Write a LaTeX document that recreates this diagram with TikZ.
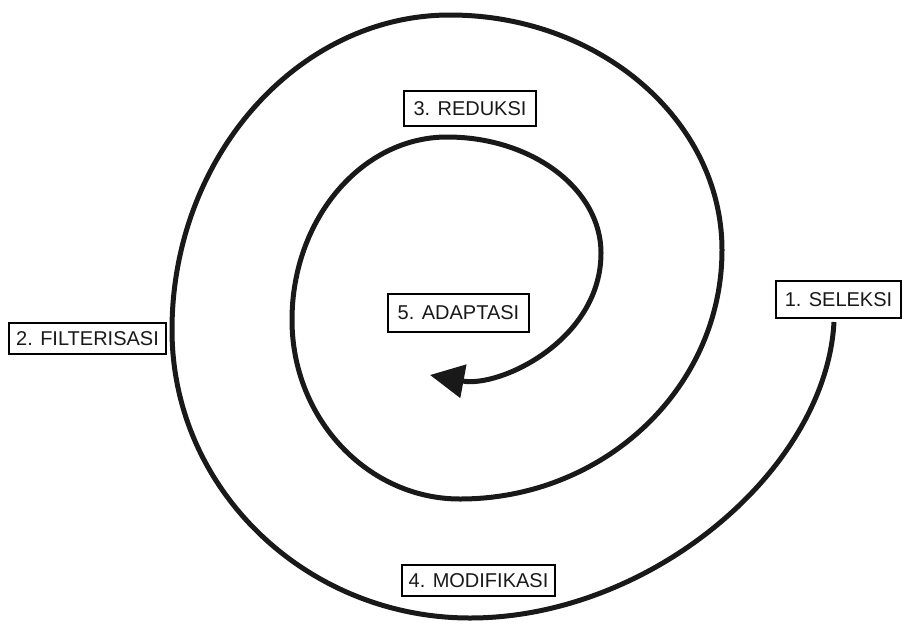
\documentclass[tikz,border=0pt]{standalone}
\usepackage{fontspec}
\setmainfont{Liberation Sans}
\usetikzlibrary{arrows.meta}

\tikzset{
  stage/.style={draw=black, line width=1.2pt, inner sep=0pt,
    font=\fontsize{20}{23}\selectfont, text=black!90},
  spiral/.style={line width=5pt, black!90, line cap=butt},
}

\begin{document}
\begin{tikzpicture}[x=1pt, y=-1pt]
  \useasboundingbox (0,0) rectangle (903,625);

  % turning points of the spiral, outside in
  \coordinate (s)  at (834,322);
  \coordinate (ob) at (470,618);
  \coordinate (ol) at (172,330);
  \coordinate (ot) at (450,15);
  \coordinate (or) at (722,250);
  \coordinate (ib) at (460,499);
  \coordinate (il) at (292,320);
  \coordinate (it) at (447,137);
  \coordinate (ir) at (601,253);
  \coordinate (e)  at (430,375);

  \draw[spiral, -{Triangle[length=34pt, width=33pt]}]
    (s)  .. controls (826,470) and (650,618) .. (ob)
         .. controls (307,618) and (172,490) .. (ol)
         .. controls (172,157) and (298,15)  .. (ot)
         .. controls (599,15)  and (722,120) .. (or)
         .. controls (722,388) and (604,499) .. (ib)
         .. controls (368,499) and (292,419) .. (il)
         .. controls (292,219) and (362,137) .. (it)
         .. controls (532,137) and (601,189) .. (ir)
         .. controls (601,340) and (500,388) .. (e);

  % stage labels
  \node[stage, minimum width=125pt, minimum height=37pt] (seleksi)    at (838.5,299.5) {1. SELEKSI};
  \node[stage, minimum width=157pt, minimum height=31pt] (filterisasi) at (87.5,338.5) {2. FILTERISASI};
  \node[stage, minimum width=132pt, minimum height=35pt] (reduksi)    at (470,108.5)   {3. REDUKSI};
  \node[stage, minimum width=153pt, minimum height=31pt] (modifikasi) at (478.5,580.5) {4. MODIFIKASI};
  \node[stage, minimum width=141pt, minimum height=38pt] (adaptasi)   at (458.5,313)   {5. ADAPTASI};
\end{tikzpicture}
\end{document}
